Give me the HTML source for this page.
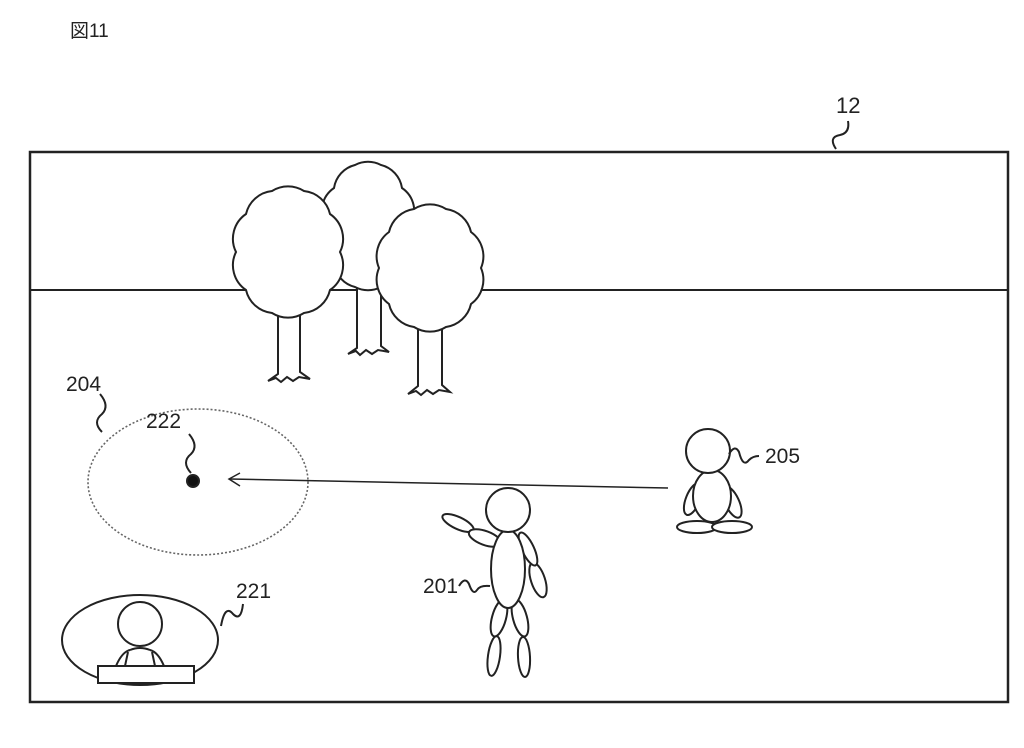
<!DOCTYPE html>
<html><head><meta charset="utf-8"><style>
html,body{margin:0;padding:0;background:#fff;}
svg{display:block;}
text{font-family:"Liberation Sans","Noto Sans CJK JP",sans-serif;fill:#222;}
</style></head><body>
<svg width="1024" height="748" viewBox="0 0 1024 748" xmlns="http://www.w3.org/2000/svg">
<g fill="none" stroke="#222" stroke-width="2">
<text x="70" y="37" font-size="19" stroke="none">図11</text>
<text x="836" y="113" font-size="22" stroke="none">12</text>
<path d="M848 121 q2 12 -8 14 q-12 2 -4 14"/>
<rect x="30" y="152" width="978" height="550" stroke-width="2.5"/>
<line x1="30" y1="290" x2="1008" y2="290"/>
<!-- trunks -->
<g fill="#fff">
<path d="M357 280 V348 L348 354 L356 351 L360 355 L366 350 L372 354 L378 350 L389 352 L381 346 V280"/>
<path d="M278 300 V374 L268 381 L276 378 L281 382 L287 377 L293 381 L299 377 L310 379 L300 372 V300"/>
<path d="M418 320 V386 L408 394 L416 391 L421 395 L427 390 L433 394 L439 390 L450 392 L442 385 V320"/>
</g>
<g fill="#fff">
<path d="M410 226 A28 28 0 0 1 402 264 A28 28 0 0 1 381 287 A28 28 0 0 1 355 287 A28 28 0 0 1 334 264 A28 28 0 0 1 326 226 A28 28 0 0 1 334 188 A28 28 0 0 1 355 165 A28 28 0 0 1 381 165 A28 28 0 0 1 402 188 A28 28 0 0 1 410 226Z"/>
<path d="M340 252 A30 30 0 0 1 330 290 A30 30 0 0 1 304 313 A30 30 0 0 1 272 313 A30 30 0 0 1 246 290 A30 30 0 0 1 236 252 A30 30 0 0 1 246 214 A30 30 0 0 1 272 191 A30 30 0 0 1 304 191 A30 30 0 0 1 330 214 A30 30 0 0 1 340 252Z"/>
<path d="M481 268 A30 30 0 0 1 471 304 A30 30 0 0 1 446 327 A30 30 0 0 1 414 327 A30 30 0 0 1 389 304 A30 30 0 0 1 379 268 A30 30 0 0 1 389 232 A30 30 0 0 1 414 209 A30 30 0 0 1 446 209 A30 30 0 0 1 471 232 A30 30 0 0 1 481 268Z"/>
</g>
<!-- 204 -->
<ellipse cx="198" cy="482" rx="110" ry="73" stroke="#666" stroke-width="1.6" stroke-dasharray="2 2"/>
<text x="66" y="391" font-size="21" stroke="none">204</text>
<path d="M100 394 q10 12 2 20 q-10 8 0 18"/>
<text x="146" y="428" font-size="21" stroke="none">222</text>
<path d="M189 434 q10 12 2 20 q-10 8 0 19"/>
<circle cx="193" cy="481" r="6" fill="#111"/>
<line x1="668" y1="488" x2="230" y2="479" stroke-width="1.5"/>
<path d="M240 473 L229 479 L240 486" stroke-width="1.5"/>
<!-- 205 -->
<g fill="#fff">
<ellipse cx="693" cy="499" rx="7" ry="17" transform="rotate(22 693 499)"/>
<ellipse cx="732" cy="502" rx="7" ry="17" transform="rotate(-25 732 502)"/>
<ellipse cx="697" cy="527" rx="20" ry="6"/>
<ellipse cx="732" cy="527" rx="20" ry="6"/>
<ellipse cx="712" cy="496" rx="19" ry="26"/>
<circle cx="708" cy="451" r="22"/>
</g>
<path d="M729 454 q6 -10 10 -2 q4 16 10 8 q4 -4 10 -4"/>
<text x="765" y="463" font-size="21" stroke="none">205</text>
<!-- 201 -->
<g fill="#fff">
<ellipse cx="458" cy="523" rx="17" ry="6" transform="rotate(25 458 523)"/>
<ellipse cx="485" cy="538" rx="17" ry="7" transform="rotate(20 485 538)"/>
<ellipse cx="538" cy="580" rx="7" ry="18" transform="rotate(-18 538 580)"/>
<ellipse cx="528" cy="549" rx="6" ry="18" transform="rotate(-25 528 549)"/>
<ellipse cx="494" cy="656" rx="6" ry="20" transform="rotate(8 494 656)"/>
<ellipse cx="524" cy="657" rx="6" ry="20" transform="rotate(-3 524 657)"/>
<ellipse cx="499" cy="618" rx="7" ry="19" transform="rotate(15 499 618)"/>
<ellipse cx="520" cy="618" rx="7" ry="19" transform="rotate(-15 520 618)"/>
<ellipse cx="508" cy="569" rx="17" ry="39"/>
<circle cx="508" cy="510" r="22"/>
</g>
<text x="423" y="593" font-size="21" stroke="none">201</text>
<path d="M459 586 q6 -10 10 -2 q4 12 8 6 q3 -5 13 -4"/>
<!-- 221 -->
<ellipse cx="140" cy="640" rx="78" ry="45"/>
<circle cx="140" cy="624" r="22"/>
<path d="M116 666 q6 -14 14 -16 M164 666 q-6 -14 -14 -16 M130 650 q10 -4 20 0 M125 666 l3 -14 M155 666 l-3 -14"/>
<rect x="98" y="666" width="96" height="17" fill="#fff"/>
<text x="236" y="598" font-size="21" stroke="none">221</text>
<path d="M243 604 q-2 18 -10 10 q-8 -10 -12 12"/>
</g>
</svg>
</body></html>
